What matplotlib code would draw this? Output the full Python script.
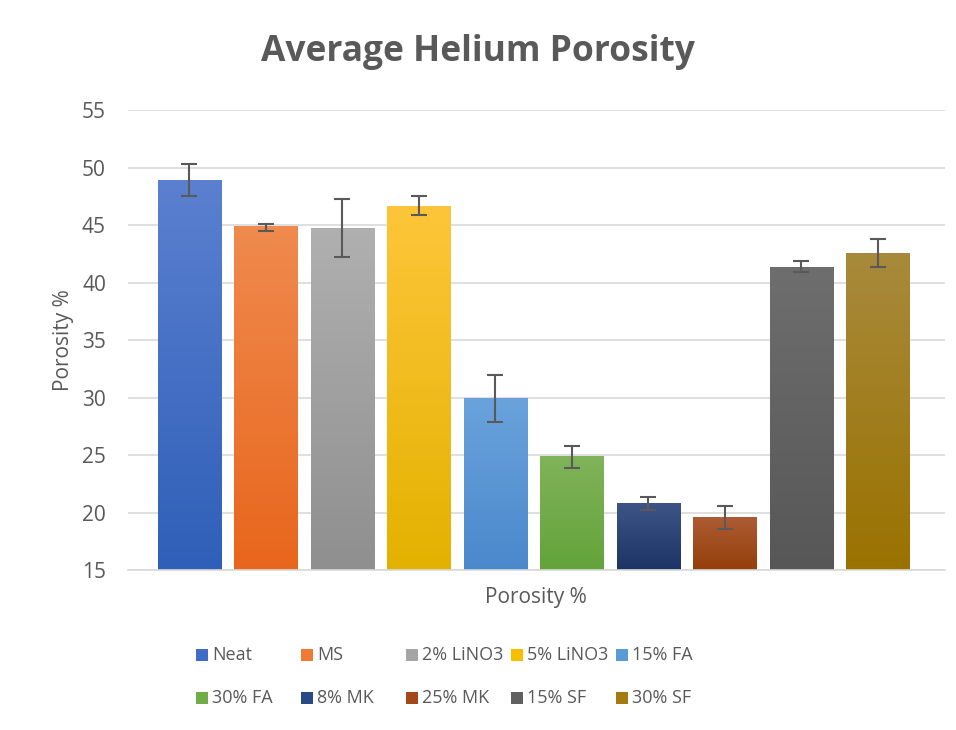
import matplotlib.pyplot as plt
import matplotlib.colors as mcolors
from matplotlib.patches import Rectangle
import numpy as np

plt.rcParams['font.family'] = ['Open Sans', 'DejaVu Sans']

labels = ['Neat', 'MS', '2% LiNO3', '5% LiNO3', '15% FA',
          '30% FA', '8% MK', '25% MK', '15% SF', '30% SF']
porosity = [48.9, 44.9, 44.8, 46.7, 30.0, 24.9, 20.8, 19.6, 41.4, 42.6]
err_lo = [1.4, 0.4, 2.6, 0.8, 2.1, 1.0, 0.6, 1.0, 0.5, 1.2]
err_hi = [1.4, 0.2, 2.5, 0.8, 2.0, 0.9, 0.6, 1.0, 0.5, 1.2]
# top (light) / bottom (dark) colours of the gradient fill
top_cols = ['#5b80d0', '#f08a4e', '#b0b0b0', '#fdc63a', '#6aa3dc',
            '#80b35a', '#3d5487', '#ad5b33', '#6e6e6e', '#a88a3c']
bot_cols = ['#2f5fb8', '#e8661c', '#8f8f8f', '#e3b200', '#4a88cc',
            '#63a33a', '#1c3465', '#943f0a', '#575757', '#9a7200']
legend_cols = ['#3f6cc4', '#f07a33', '#a5a5a5', '#f6c000', '#5b9bd5',
               '#70ad47', '#2a4a85', '#a2481a', '#606060', '#a37b10']

grey = '#595959'
W, H = 956, 730
fig = plt.figure(figsize=(W / 100, H / 100), dpi=100)
ax = fig.add_axes([0.134, 0.219, 0.854, 0.630])

x = np.arange(len(labels))
bars = ax.bar(x, porosity, width=0.83, bottom=0, color='none', zorder=2)
ax.set_ylim(15, 55)
ax.set_xlim(-0.8, 9.87)

for b, c1, c2 in zip(bars, top_cols, bot_cols):
    cmap = mcolors.LinearSegmentedColormap.from_list('g', [c2, c1])
    grad = np.linspace(0, 1, 256).reshape(-1, 1)
    x0 = b.get_x()
    im = ax.imshow(grad, cmap=cmap, aspect='auto', origin='lower',
                   extent=[x0, x0 + b.get_width(), 15, b.get_height()],
                   zorder=2)
    im.set_clip_path(b)

ax.errorbar(x, porosity, yerr=[err_lo, err_hi], fmt='none', ecolor=grey,
            elinewidth=1.5, capsize=6, capthick=1.5, zorder=3)

ax.set_yticks(np.arange(15, 56, 5))
ax.set_xticks([])
ax.tick_params(axis='y', length=0, pad=16, labelsize=15, labelcolor=grey)
ax.grid(axis='y', color='#d9d9d9', linewidth=1.2, zorder=0)
ax.set_axisbelow(True)
for s in ['top', 'right', 'left']:
    ax.spines[s].set_visible(False)
ax.spines['bottom'].set_color('#d9d9d9')
ax.spines['bottom'].set_linewidth(1.2)

ax.set_ylabel('Porosity %', fontsize=15, color=grey, labelpad=6)
ax.set_xlabel('Porosity %', fontsize=15, color=grey, labelpad=12)
fig.text(0.5, 1 - 52 / H, 'Average Helium Porosity', fontsize=25.5,
         fontweight='bold', color=grey, ha='center', va='center')

# legend laid out row by row, uniform column width like the original
for i, (lab, c) in enumerate(zip(labels, legend_cols)):
    row, col = divmod(i, 5)
    px = 196 + col * 105
    py = 655 + row * 43
    fig.add_artist(Rectangle((px / W, 1 - (py + 6) / H), 12 / W, 12 / H,
                             transform=fig.transFigure, facecolor=c,
                             edgecolor='none'))
    fig.text((px + 16) / W, 1 - py / H, lab, fontsize=13, color=grey,
             ha='left', va='center')

plt.savefig('out.png', dpi=100)
